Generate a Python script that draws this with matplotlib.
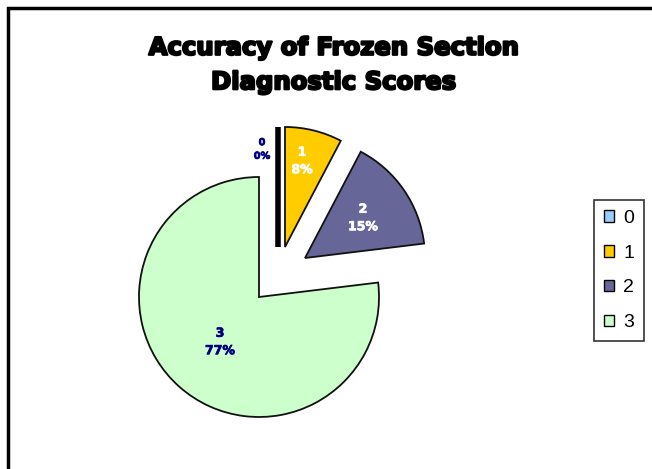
import matplotlib
matplotlib.use("Agg")
from matplotlib import pyplot as plt
from matplotlib.patches import Rectangle, Patch
import matplotlib.patheffects as pe

# data
categories = ["0", "1", "2", "3"]
counts = [0, 1, 2, 10]
colors = ["#99CCFF", "#FFCC00", "#666699", "#CCFFCC"]
label_colors = ["#000080", "white", "white", "#000080"]

title = "Accuracy of Frozen Section\nDiagnostic Scores"

W, H = 652, 469
fig = plt.figure(figsize=(W / 100, H / 100), dpi=100)
ax = fig.add_axes([0, 0, 1, 1])

# pixel positions (y measured from top) of the wedge apexes
centers = [(278, 247), (285, 247), (305, 258), (259, 297)]
radius = 120

wedges, _ = ax.pie(counts, colors=colors, startangle=90, counterclock=False,
                   radius=radius, center=(259, H - 297),
                   wedgeprops=dict(edgecolor="#111111", linewidth=1.3))
for w, (cx, cy) in zip(wedges, centers):
    w.set_center((cx, H - cy))
wedges[0].set_linewidth(4)
wedges[0].set_edgecolor("black")

ax.set_xlim(0, W)
ax.set_ylim(0, H)
ax.set_aspect("equal")
ax.axis("off")

total = sum(counts)
label_pos = [(262, 149), (302, 161), (363, 218), (220, 342)]
for cat, n, (lx, ly), c in zip(categories, counts, label_pos, label_colors):
    ax.text(lx, H - ly, f"{cat}\n{100 * n / total:.0f}%", ha="center", va="center",
            color=c, fontsize=9 if cat != "0" else 7, fontweight="bold",
            linespacing=1.45,
            path_effects=[pe.withStroke(linewidth=0.5, foreground=c)])

ax.text(333, H - 65, title, ha="center", va="center", fontsize=17.5,
        fontweight="heavy", linespacing=1.55,
        path_effects=[pe.withStroke(linewidth=1.6, foreground="black")])

# chart frame
ax.add_patch(Rectangle((8, -20), W + 20, H - 8 + 20, fill=False,
                       edgecolor="black", linewidth=2.5, clip_on=False))

handles = [Patch(facecolor=c, edgecolor="black", linewidth=1) for c in colors]
leg = fig.legend(handles, categories, loc="upper left",
                 bbox_to_anchor=(594 / W, 1 - 200 / H), frameon=True,
                 prop={"family": "Liberation Sans", "size": 14},
                 handlelength=0.55, handleheight=0.55,
                 handletextpad=0.45, labelspacing=0.92, borderpad=0.5,
                 fancybox=False, borderaxespad=0)
leg.get_frame().set_edgecolor("black")
leg.get_frame().set_linewidth(1.2)

fig.savefig("out.png", dpi=100)
